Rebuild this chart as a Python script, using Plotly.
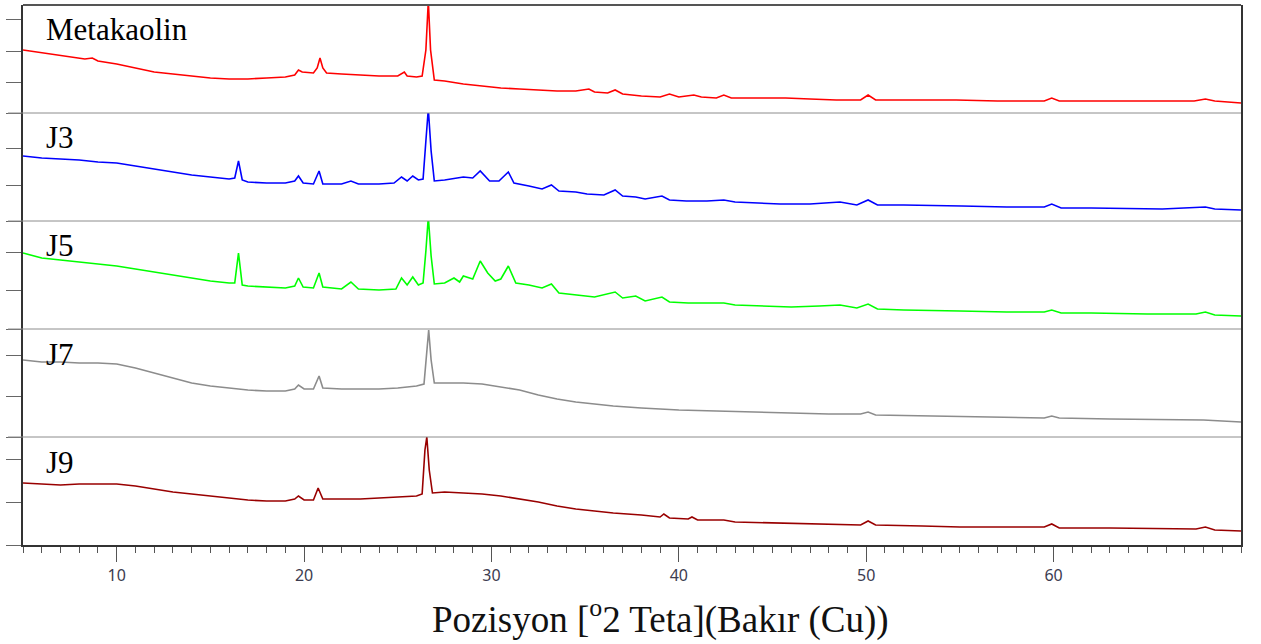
import plotly.graph_objects as go
from plotly.subplots import make_subplots

# ---- data (2-theta, relative intensity) ----
tt_meta = [5.0, 5.8, 6.6, 7.5, 8.3, 8.7, 9.0, 10, 11, 12, 13, 14, 15, 16, 17, 18, 19, 19.5, 19.7, 19.9,
           20.5, 20.7, 20.85, 21.0, 21.2, 22, 23, 24, 25.0, 25.2, 25.35, 25.5, 26.0, 26.3, 26.5, 26.63,
           26.75, 26.95, 27.5, 28.5, 29.5, 30.5, 31.5, 32.5, 33.5, 34.5, 35.2, 35.5, 36.2, 36.6, 37.0,
           38.0, 39.0, 39.5, 40.0, 40.8, 41.2, 42.0, 42.4, 42.8, 44, 45.7, 47, 48.4, 49.7, 50.1, 50.5,
           52, 54.8, 57, 59.5, 59.9, 60.3, 62, 65.8, 67.5, 68.1, 68.6, 70]
i_meta = [63, 61, 59, 56, 54, 55, 52, 49, 45, 41, 39, 37, 35, 34, 34, 35, 36, 38, 43, 41,
          40, 45, 55, 45, 40, 39, 38, 37, 37, 39, 41, 37, 36, 37, 63, 112,
          63, 33, 32, 29, 27, 25, 24, 23, 22, 22, 24, 21, 20, 23, 19,
          17, 16, 19, 16, 18, 16, 15, 18, 15, 15, 15, 14, 13, 13, 18, 13,
          13, 13, 12, 12, 15, 12, 12, 12, 12, 14, 12, 10]

tt_j3 = [5, 6, 7, 8, 9, 10, 11, 12, 13, 14, 15, 16, 16.3, 16.5, 16.7, 17, 18, 19, 19.5, 19.7, 19.95,
         20.5, 20.8, 21.0, 22, 22.5, 22.9, 24, 24.8, 25.2, 25.5, 25.8, 26.1, 26.35, 26.5, 26.63, 26.78,
         26.95, 27.5, 28.1, 28.5, 29.0, 29.4, 29.9, 30.4, 30.9, 31.2, 32, 32.7, 33.2, 33.6, 34.5, 35.1,
         36, 36.6, 37, 37.7, 38.2, 39.1, 39.5, 40.4, 41.5, 42.4, 43, 44, 45.4, 47, 48.6, 49.5, 50.1,
         50.6, 52, 55.1, 57.5, 59.5, 59.9, 60.4, 62, 65.8, 67.6, 68.1, 68.6, 70]
i_j3 = [65, 63, 62, 61, 59, 58, 55, 52, 49, 46, 44, 42, 43, 60, 41, 39, 38, 38, 40, 45, 38,
        37, 50, 37, 37, 40, 37, 37, 38, 44, 40, 45, 41, 42, 80, 112, 70,
        40, 41, 43, 44, 43, 50, 40, 40, 49, 38, 35, 32, 36, 30, 29, 27,
        26, 31, 25, 24, 22, 25, 21, 20, 20, 21, 19, 18, 17, 17, 19, 16, 21,
        16, 16, 15, 14, 14, 17, 13, 13, 12, 13, 14, 12, 11]

tt_j5 = [5, 6, 7, 8, 9, 10, 11, 12, 13, 14, 15, 16, 16.3, 16.5, 16.7, 17, 18, 19, 19.5, 19.7, 19.95,
         20.5, 20.8, 21.0, 22, 22.5, 22.9, 24, 24.9, 25.2, 25.5, 25.8, 26.1, 26.35, 26.5, 26.63, 26.78,
         26.95, 27.5, 28.0, 28.3, 28.5, 29.0, 29.4, 29.8, 30.2, 30.5, 30.9, 31.3, 32, 32.7, 33.2, 33.6,
         34.5, 35.5, 36.6, 37, 37.7, 38.2, 39.1, 39.5, 40.5, 42.4, 43, 45, 46, 47.5, 48.6, 49.5, 50.1,
         50.6, 52, 55, 57.5, 59.5, 59.9, 60.4, 62, 65, 67.6, 68.1, 68.6, 70]
i_j5 = [76, 71, 69, 67, 65, 63, 60, 57, 54, 51, 48, 46, 46, 76, 44, 43, 42, 41, 43, 51, 42,
        41, 56, 42, 40, 47, 40, 39, 40, 51, 44, 52, 44, 46, 78, 112, 73,
        45, 46, 51, 47, 53, 50, 68, 56, 48, 50, 63, 46, 44, 41, 45, 36,
        34, 32, 37, 31, 33, 28, 32, 27, 26, 26, 24, 23, 22, 23, 24, 21, 25,
        20, 19, 18, 17, 17, 19, 16, 16, 15, 15, 17, 14, 13]

tt_j7 = [5, 6, 7, 8, 9, 10, 11, 12, 13, 14, 15, 16, 17, 18, 19, 19.5, 19.7, 20.0, 20.5, 20.8, 21.0,
         22, 23, 24, 25, 26.0, 26.4, 26.55, 26.65, 26.78, 26.95, 27.5, 28.5, 29.5, 30.5, 31.5, 32.5,
         33.5, 34.5, 35.5, 36.5, 38, 40, 42, 44, 46, 48, 49.7, 50.1, 50.5, 53, 56, 59.5, 59.9, 60.3,
         63, 66, 68, 70]
i_j7 = [77, 75, 75, 74, 74, 73, 69, 64, 59, 54, 51, 49, 47, 46, 46, 48, 52, 48, 48, 61, 49,
        48, 48, 48, 49, 51, 53, 87, 107, 77, 54, 54, 54, 53, 50, 47, 42,
        38, 35, 33, 31, 29, 27, 26, 25, 24, 23, 23, 25, 22, 21, 20, 19, 21, 19,
        18, 17, 17, 15]

tt_j9 = [5, 6, 7, 8, 9, 10, 11, 12, 13, 14, 15, 16, 17, 18, 19, 19.5, 19.7, 20.0, 20.5, 20.75, 21.0,
         22, 23, 24, 25, 26.0, 26.3, 26.45, 26.55, 26.68, 26.85, 27.5, 28.5, 29.5, 30.5, 31.5, 32.5,
         33.5, 34.5, 35.5, 36.5, 38, 39.0, 39.2, 39.5, 40.5, 40.7, 41.0, 42.4, 43, 45, 47, 49.7, 50.1,
         50.5, 53, 55, 57, 59.5, 59.9, 60.3, 63, 66, 67.6, 68.1, 68.6, 70]
i_j9 = [62, 61, 60, 61, 61, 61, 59, 56, 53, 51, 49, 47, 45, 44, 44, 46, 49, 45, 45, 57, 46,
        46, 46, 47, 48, 49, 51, 95, 108, 75, 52, 53, 52, 51, 49, 46, 43,
        39, 36, 34, 32, 30, 28, 31, 27, 26, 28, 25, 25, 23, 22, 21, 20, 24,
        20, 19, 18, 18, 18, 21, 17, 17, 16, 16, 18, 15, 14]

labels = ["Metakaolin", "J3", "J5", "J7", "J9"]
colors = ["#ff0000", "#0000ff", "#00ff00", "#8c8c8c", "#990000"]
y_ticks = [[0, 31, 62, 94], [0, 36, 73], [0, 39, 77], [0, 41, 82], [0, 43, 86]]
x_major = [10, 20, 30, 40, 50, 60]
x_title = "Pozisyon [<sup>o</sup>2 Teta](Bakır (Cu))"

series = [(tt_meta, i_meta), (tt_j3, i_j3), (tt_j5, i_j5), (tt_j7, i_j7), (tt_j9, i_j9)]

fig = make_subplots(rows=5, cols=1, shared_xaxes=True, vertical_spacing=0)

for k, ((tt, ii), col) in enumerate(zip(series, colors)):
    r = k + 1
    fig.add_trace(go.Scatter(x=tt, y=ii, mode="lines", line=dict(color=col, width=1.6),
                             showlegend=False, hoverinfo="skip"), row=r, col=1)
    fig.update_yaxes(range=[0, 108], tickvals=y_ticks[k], showticklabels=False,
                     ticks="outside", ticklen=15, tickcolor="#666", tickwidth=1,
                     showline=True, linecolor="#333", linewidth=2, mirror=True,
                     showgrid=False, zeroline=False, row=r, col=1)
    fig.update_xaxes(range=[5, 70], showgrid=False, zeroline=False, showline=False,
                     showticklabels=False, ticks="", row=r, col=1)
    yref = "y domain" if r == 1 else f"y{r} domain"
    fig.add_annotation(text=labels[k], xref="paper", yref=yref, x=21 / 1218, y=1 - 25 / 108,
                       xanchor="left", yanchor="middle", showarrow=False,
                       font=dict(family="Liberation Serif", size=31, color="#000"))

fig.update_xaxes(showline=True, linecolor="#333", linewidth=2, mirror=False,
                 ticks="outside", ticklen=15, tickcolor="#555", tickwidth=1,
                 tickvals=x_major, showticklabels=True,
                 tickfont=dict(family="Noto Sans", size=16, color="#3c3c50"),
                 minor=dict(dtick=1, tick0=0, ticks="outside", ticklen=6, tickcolor="#555", tickwidth=1),
                 row=5, col=1)

# separators between panels and top border
for yy in [0.2, 0.4, 0.6, 0.8]:
    fig.add_shape(type="line", xref="paper", yref="paper", x0=-15 / 1218, x1=1, y0=yy, y1=yy,
                  line=dict(color="#8c8c8c", width=1))
fig.add_shape(type="line", xref="paper", yref="paper", x0=0, x1=1, y0=1, y1=1,
              line=dict(color="#555", width=2))

fig.add_annotation(text=x_title, xref="paper", yref="paper", x=(660 - 23) / 1218, y=(545 - 617) / 540,
                   xanchor="center", yanchor="middle", showarrow=False,
                   font=dict(family="Liberation Serif", size=37, color="#111"))

fig.update_layout(width=1261, height=644, margin=dict(l=23, r=20, t=5, b=99),
                  paper_bgcolor="white", plot_bgcolor="white")

fig.write_html("out.html")
